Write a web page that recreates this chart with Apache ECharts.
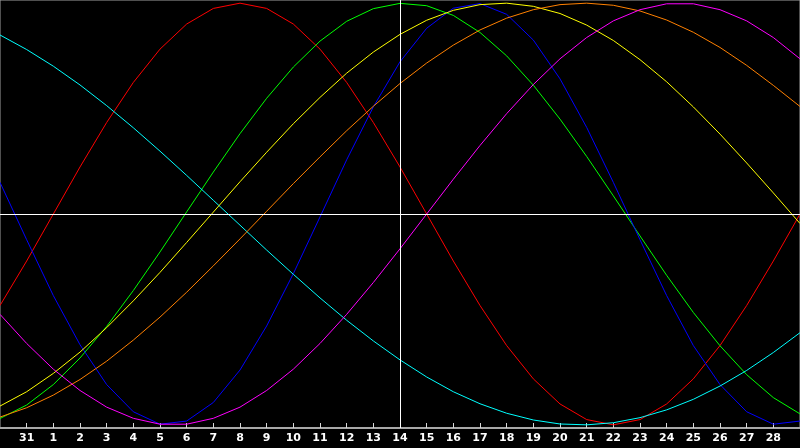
<!DOCTYPE html>
<html>
<head>
<meta charset="utf-8">
<style>
html,body{margin:0;padding:0;background:#000;}
#chart{width:800px;height:448px;}
</style>
<script src="https://cdn.jsdelivr.net/npm/echarts@6/dist/echarts.min.js"></script>
</head>
<body>
<div id="chart"></div>
<script>
// Day labels (first and last are off-label edge days)
const days = ['30','31','1','2','3','4','5','6','7','8','9','10','11','12','13','14','15','16','17','18','19','20','21','22','23','24','25','26','27','28','29'];
const markDay = '14';

// Series values (range -1..1)
const redVals = [-0.434,-0.223,0,0.223,0.434,0.624,0.782,0.901,0.975,1,0.975,0.901,0.782,0.624,0.434,0.223,0,-0.223,-0.434,-0.624,-0.782,-0.901,-0.975,-1,-0.975,-0.901,-0.782,-0.624,-0.434,-0.223,0];
const greenVals = [-0.970,-0.906,-0.809,-0.683,-0.533,-0.363,-0.180,0.010,0.199,0.381,0.549,0.697,0.820,0.914,0.974,0.999,0.988,0.942,0.861,0.750,0.611,0.450,0.273,0.086,-0.104,-0.291,-0.467,-0.625,-0.762,-0.871,-0.948];
const blueVals = [0.150,-0.122,-0.387,-0.620,-0.809,-0.938,-0.997,-0.982,-0.894,-0.740,-0.531,-0.283,-0.014,0.257,0.508,0.722,0.881,0.976,0.998,0.947,0.825,0.641,0.411,0.150,-0.122,-0.387,-0.624,-0.809,-0.938,-0.997,-0.982];
const cyanVals = [0.849,0.780,0.701,0.612,0.514,0.409,0.298,0.183,0.065,-0.053,-0.171,-0.286,-0.398,-0.504,-0.602,-0.692,-0.773,-0.843,-0.900,-0.945,-0.977,-0.996,-1.000,-0.990,-0.966,-0.929,-0.879,-0.816,-0.742,-0.657,-0.563];
const yellowVals = [-0.911,-0.843,-0.756,-0.655,-0.539,-0.412,-0.277,-0.135,0.009,0.153,0.293,0.428,0.553,0.668,0.768,0.852,0.919,0.966,0.993,1.000,0.985,0.951,0.896,0.823,0.732,0.627,0.508,0.379,0.242,0.100,-0.045];
const orangeVals = [-0.963,-0.919,-0.859,-0.785,-0.698,-0.598,-0.489,-0.371,-0.246,-0.118,0.013,0.144,0.271,0.395,0.511,0.619,0.716,0.801,0.873,0.929,0.969,0.993,1.000,0.990,0.963,0.920,0.862,0.790,0.705,0.610,0.510];
const magentaVals = [-0.476,-0.614,-0.736,-0.837,-0.916,-0.969,-0.997,-0.997,-0.969,-0.916,-0.837,-0.736,-0.614,-0.476,-0.325,-0.165,0,0.165,0.325,0.476,0.614,0.736,0.837,0.916,0.969,0.997,0.997,0.969,0.916,0.837,0.736];

const seriesDefs = [
  {name:'red', data: redVals, color:'#ff0000'},
  {name:'green', data: greenVals, color:'#00ff00'},
  {name:'blue', data: blueVals, color:'#0000ff'},
  {name:'cyan', data: cyanVals, color:'#00ffff'},
  {name:'yellow', data: yellowVals, color:'#ffff00'},
  {name:'orange', data: orangeVals, color:'#ff8000'},
  {name:'magenta', data: magentaVals, color:'#ff00ff'}
];

const chart = echarts.init(document.getElementById('chart'), null, {renderer:'canvas'});
const last = days.length - 1;
const series = seriesDefs.map(s => ({
  name: s.name,
  type: 'line',
  data: s.data,
  symbol: 'none',
  smooth: false,
  lineStyle: {color: s.color, width: 1},
  itemStyle: {color: s.color},
  z: 3
}));
series.push({
  type: 'line',
  data: [],
  silent: true,
  z: 4,
  markLine: {
    silent: true,
    symbol: ['none','none'],
    label: {show: false},
    lineStyle: {color: '#ffffff', width: 1, type: 'solid'},
    data: [{xAxis: markDay}, {yAxis: 0}]
  }
});

chart.setOption({
  animation: false,
  backgroundColor: '#000000',
  grid: {left: 0, right: 0, top: 0, bottom: 20, show: true, borderColor: '#a0a0a0', borderWidth: 1, backgroundColor: '#000'},
  xAxis: {
    type: 'category',
    data: days,
    boundaryGap: false,
    axisLine: {show: true, onZero: false, lineStyle: {color: '#a8a8a8', width: 2}},
    axisTick: {show: true, inside: true, length: 5, lineStyle: {color: '#d8d8d8'}, interval: (i) => i > 0 && i < last},
    axisLabel: {show: true, color: '#ffffff', fontWeight: 'bold', fontSize: 11, fontFamily: 'DejaVu Sans', margin: 5, interval: (i) => i > 0 && i < last},
    splitLine: {show: false}
  },
  yAxis: {
    type: 'value',
    min: -1.015,
    max: 1.015,
    show: false,
    splitLine: {show: false}
  },
  series: series
});
</script>
</body>
</html>
